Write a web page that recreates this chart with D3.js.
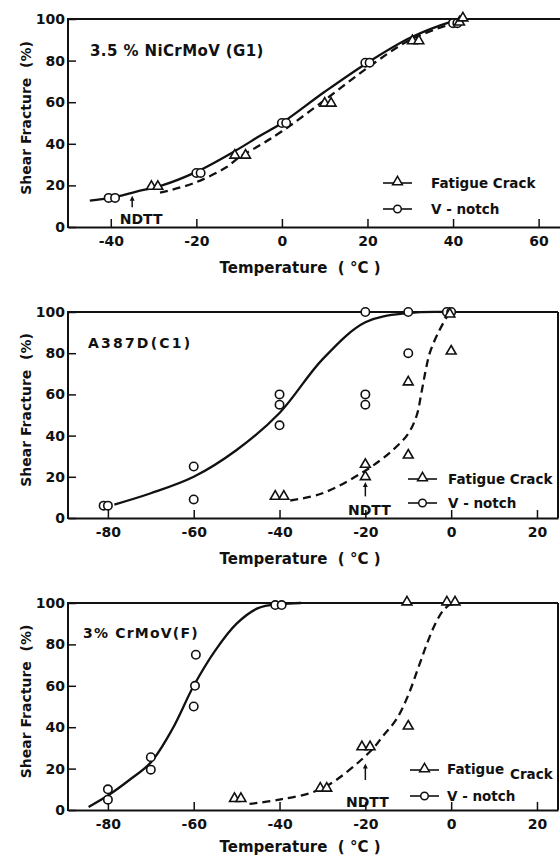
<!DOCTYPE html>
<html>
<head>
<meta charset="utf-8">
<script src="https://cdn.jsdelivr.net/npm/d3@7"></script>
<style>
body { margin: 0; background: #fff; }
text { font-family: "DejaVu Sans", sans-serif; fill: #111; font-weight: bold; }
</style>
</head>
<body>
<div class="container"></div>
<script>
// 数据
// panel 1 : 3.5% NiCrMoV (G1)
var p1VnotchT = [-40.5, -39, -20, -19, 0, 1, 19.5, 20.5, 40, 41];
var p1VnotchS = [14, 14, 26, 26, 50, 50, 79, 79, 98, 98];
var p1FatigueT = [-30.5, -29, -11, -8.5, 10, 11.5, 30.5, 32, 41.5, 42.3];
var p1FatigueS = [19, 19, 34, 34, 59, 59, 89, 89, 98, 100];
var p1SolidT = [-44.9, -40, -34, -28, -20, -11, -5, 0, 10, 20, 30, 40, 42];
var p1SolidS = [12.7, 14, 17, 20, 26.5, 36.5, 44, 50, 65, 79, 91, 99, 100];
var p1DashT = [-28.5, -20.7, -13, -10, -5, 0, 10, 20, 30, 40];
var p1DashS = [16.5, 21, 28.7, 33.5, 39.5, 46, 61, 76.5, 90, 98];
var p1Ticks = [-40, -20, 0, 20, 40, 60];
var p1Ndtt = -35;

// panel 2 : A387D (C1)
var p2VnotchT = [-81, -80, -60, -60, -40, -40, -40, -20, -20, -20, -10, -10, -1, 0];
var p2VnotchS = [6, 6, 25, 9, 60, 55, 45, 60, 55, 100, 100, 80, 100, 100];
var p2FatigueT = [-41, -39, -20, -20, -10, -10, 0, -0.3];
var p2FatigueS = [10, 10, 25.5, 19.5, 65.5, 30, 80.5, 98.5];
var p2SolidT = [-78.5, -70, -60, -50, -40, -30, -20, -10, 0];
var p2SolidS = [6.5, 12, 20, 33, 51, 77, 95, 99.5, 100];
var p2DashT = [-37.5, -30, -20, -13.6, -10, -8, -7, -6, -5, -3, -0.7, 0];
var p2DashS = [8.5, 12, 23, 33, 41, 50, 60, 71, 80, 90, 98.5, 100];
var p2Ticks = [-80, -60, -40, -20, 0, 20];
var p2Ndtt = -20;

// panel 3 : 3% CrMoV (F)
var p3VnotchT = [-80, -80, -70, -70, -59.5, -59.7, -60, -41, -39.5];
var p3VnotchS = [10, 5, 25.5, 19.5, 75, 60, 50, 99, 99];
var p3FatigueT = [-50.5, -49, -30.5, -29, -20.8, -18.9, -10, -10.3, -1, 0.9];
var p3FatigueS = [5, 5, 10, 10, 30, 30, 40, 100, 100, 100];
var p3SolidT = [-84.5, -80, -75, -70, -65, -60, -55, -50, -45, -40, -35];
var p3SolidS = [1.5, 7, 14.5, 23, 39, 60, 77, 90, 97.5, 99.5, 100];
var p3DashT = [-47, -40, -30, -19, -15.8, -12.7, -10, -7.7, -5.7, -3.8, -1.8, 0];
var p3DashS = [3, 5, 10.5, 28, 36, 44, 55.5, 68.5, 80, 89.5, 96.6, 99.8];
var p3Ticks = [-80, -60, -40, -20, 0, 20];
var p3Ndtt = -20;

var yTicks = [0, 20, 40, 60, 80, 100];

function zip(a, b) { return a.map(function(v, i) { return [v, b[i]]; }); }

// 画布
var svg = d3.select(".container")
            .append("svg")
            .attr("width", 560)
            .attr("height", 857);

var panels = [
  {title: "3.5 % NiCrMoV (G1)", fs: 15, ls: 0.4, top: 19, bottom: 227, domain: [-50, 65], right: 560, box: false,
   vn: zip(p1VnotchT, p1VnotchS), fc: zip(p1FatigueT, p1FatigueS),
   solid: zip(p1SolidT, p1SolidS), dash: zip(p1DashT, p1DashS), ticks: p1Ticks,
   ndtt: p1Ndtt, arrow: [9.5, 15], ndttDx: 9, leg: {x: 383, y1: 183, y2: 209, tx: 431},
   titleX: 90, titleY: 56, xTitleY: 273, split: false},
  {title: "A387D(C1)", fs: 14, ls: 2.2, top: 312, bottom: 518, domain: [-89.3, 24.9], right: 558, box: true,
   vn: zip(p2VnotchT, p2VnotchS), fc: zip(p2FatigueT, p2FatigueS),
   solid: zip(p2SolidT, p2SolidS), dash: zip(p2DashT, p2DashS), ticks: p2Ticks,
   ndtt: p2Ndtt, arrow: [10.5, 17.5], ndttDx: 4, leg: {x: 408, y1: 479, y2: 503, tx: 448},
   titleX: 88, titleY: 348, xTitleY: 564, split: false},
  {title: "3% CrMoV(F)", fs: 14, ls: 1.2, top: 603, bottom: 810, domain: [-89.3, 24.9], right: 558, box: true,
   vn: zip(p3VnotchT, p3VnotchS), fc: zip(p3FatigueT, p3FatigueS),
   solid: zip(p3SolidT, p3SolidS), dash: zip(p3DashT, p3DashS), ticks: p3Ticks,
   ndtt: p3Ndtt, arrow: [14.5, 22.5], ndttDx: 2, leg: {x: 410, y1: 770, y2: 796, tx: 447},
   titleX: 83, titleY: 638, xTitleY: 852, split: true}
];

var left = 68;
var tri = d3.symbol().type(d3.symbolTriangle).size(42);

panels.forEach(function(p) {
  var x = d3.scaleLinear().domain(p.domain).range([left, p.right]);
  var y = d3.scaleLinear().domain([0, 100]).range([p.bottom, p.top]);
  var g = svg.append("g");

  // 框
  var frame = g.append("g").attr("stroke", "#111").attr("stroke-width", 2).attr("fill", "none");
  frame.append("line").attr("x1", left).attr("x2", p.right).attr("y1", p.top).attr("y2", p.top);
  frame.append("line").attr("x1", left).attr("x2", left).attr("y1", p.top - 1).attr("y2", p.bottom + 1);
  if (p.box) frame.append("line").attr("x1", p.right).attr("x2", p.right).attr("y1", p.top).attr("y2", p.bottom);

  // 坐标轴
  var xa = g.append("g")
    .attr("transform", "translate(0," + p.bottom + ")")
    .call(d3.axisBottom(x).tickValues(p.ticks).tickSizeInner(-8).tickSizeOuter(0).tickPadding(9)
      .tickFormat(function(d) { return String(d); }));
  xa.select(".domain").attr("stroke-width", 2).attr("stroke", "#111");
  xa.selectAll(".tick line").attr("stroke-width", 1.5).attr("stroke", "#111");
  xa.selectAll("text").attr("font-size", 14).attr("font-weight", "bold").attr("fill", "#111").attr("font-family", "DejaVu Sans");

  var ya = g.append("g")
    .attr("transform", "translate(" + left + ",0)")
    .call(d3.axisLeft(y).tickValues(yTicks).tickSizeInner(-8).tickSizeOuter(0).tickPadding(3));
  ya.select(".domain").remove();
  ya.selectAll(".tick line").attr("stroke-width", 1.5).attr("stroke", "#111");
  ya.selectAll("text").attr("font-size", 14).attr("font-weight", "bold").attr("fill", "#111").attr("font-family", "DejaVu Sans");

  // 标题
  g.append("text").attr("x", 300).attr("y", p.xTitleY)
    .attr("text-anchor", "middle").attr("font-size", 15).style("white-space", "pre")
    .text("Temperature  ( °C )");
  var cy = (p.top + p.bottom) / 2 - 5;
  g.append("text").attr("transform", "translate(31," + cy + ") rotate(-90)")
    .attr("text-anchor", "middle").attr("font-size", 14).style("white-space", "pre")
    .text("Shear Fracture  (%)");
  g.append("text").attr("x", p.titleX).attr("y", p.titleY)
    .attr("font-size", p.fs).attr("letter-spacing", p.ls).style("white-space", "pre").text(p.title);

  // 曲线
  var line = d3.line().x(function(d) { return x(d[0]); }).y(function(d) { return y(d[1]); })
               .curve(d3.curveCatmullRom.alpha(0.5));
  g.append("path").attr("d", line(p.solid)).attr("fill", "none")
    .attr("stroke", "#111").attr("stroke-width", 2.3);
  g.append("path").attr("d", line(p.dash)).attr("fill", "none")
    .attr("stroke", "#111").attr("stroke-width", 2.3).attr("stroke-dasharray", "8,5");

  // 数据点
  g.selectAll(".vn").data(p.vn).enter().append("circle")
    .attr("cx", function(d) { return x(d[0]); })
    .attr("cy", function(d) { return y(d[1]); })
    .attr("r", 4.2).attr("fill", "#fff").attr("stroke", "#111").attr("stroke-width", 1.6);
  g.selectAll(".fc").data(p.fc).enter().append("path")
    .attr("d", tri)
    .attr("transform", function(d) { return "translate(" + x(d[0]) + "," + (y(d[1]) - 1) + ")"; })
    .attr("fill", "#fff").attr("stroke", "#111").attr("stroke-width", 1.6);

  // NDTT
  var ax = x(p.ndtt);
  g.append("line").attr("x1", ax).attr("x2", ax)
    .attr("y1", y(p.arrow[0])).attr("y2", y(p.arrow[1]) + 3)
    .attr("stroke", "#111").attr("stroke-width", 1.5);
  g.append("path")
    .attr("d", "M" + (ax - 2.5) + "," + (y(p.arrow[1]) + 5) + "L" + ax + "," + y(p.arrow[1]) + "L" + (ax + 2.5) + "," + (y(p.arrow[1]) + 5) + "Z")
    .attr("fill", "#111");
  g.append("text").attr("x", ax + p.ndttDx).attr("y", p.bottom - 3)
    .attr("text-anchor", "middle").attr("font-size", 14).text("NDTT");

  // 图例
  var L = p.leg;
  [[L.y1, "tri"], [L.y2, "circ"]].forEach(function(r) {
    g.append("line").attr("x1", L.x).attr("x2", L.x + 29).attr("y1", r[0]).attr("y2", r[0])
      .attr("stroke", "#111").attr("stroke-width", 1.6);
    if (r[1] === "tri") {
      g.append("path").attr("d", tri).attr("transform", "translate(" + (L.x + 14.5) + "," + (r[0] - 1) + ")")
        .attr("fill", "#fff").attr("stroke", "#111").attr("stroke-width", 1.5);
    } else {
      g.append("circle").attr("cx", L.x + 14.5).attr("cy", r[0]).attr("r", 3.8)
        .attr("fill", "#fff").attr("stroke", "#111").attr("stroke-width", 1.5);
    }
  });
  var t1 = g.append("text").attr("x", L.tx).attr("y", L.y1 + 5).attr("font-size", 13.5);
  if (p.split) {
    t1.append("tspan").attr("dy", -1).text("Fatigue");
    t1.append("tspan").attr("x", 510).attr("dy", 5).text("Crack");
  } else {
    t1.text("Fatigue Crack");
  }
  g.append("text").attr("x", L.tx).attr("y", L.y2 + 5).attr("font-size", 13.5)
    .style("white-space", "pre").text("V - notch");
});
</script>
</body>
</html>
